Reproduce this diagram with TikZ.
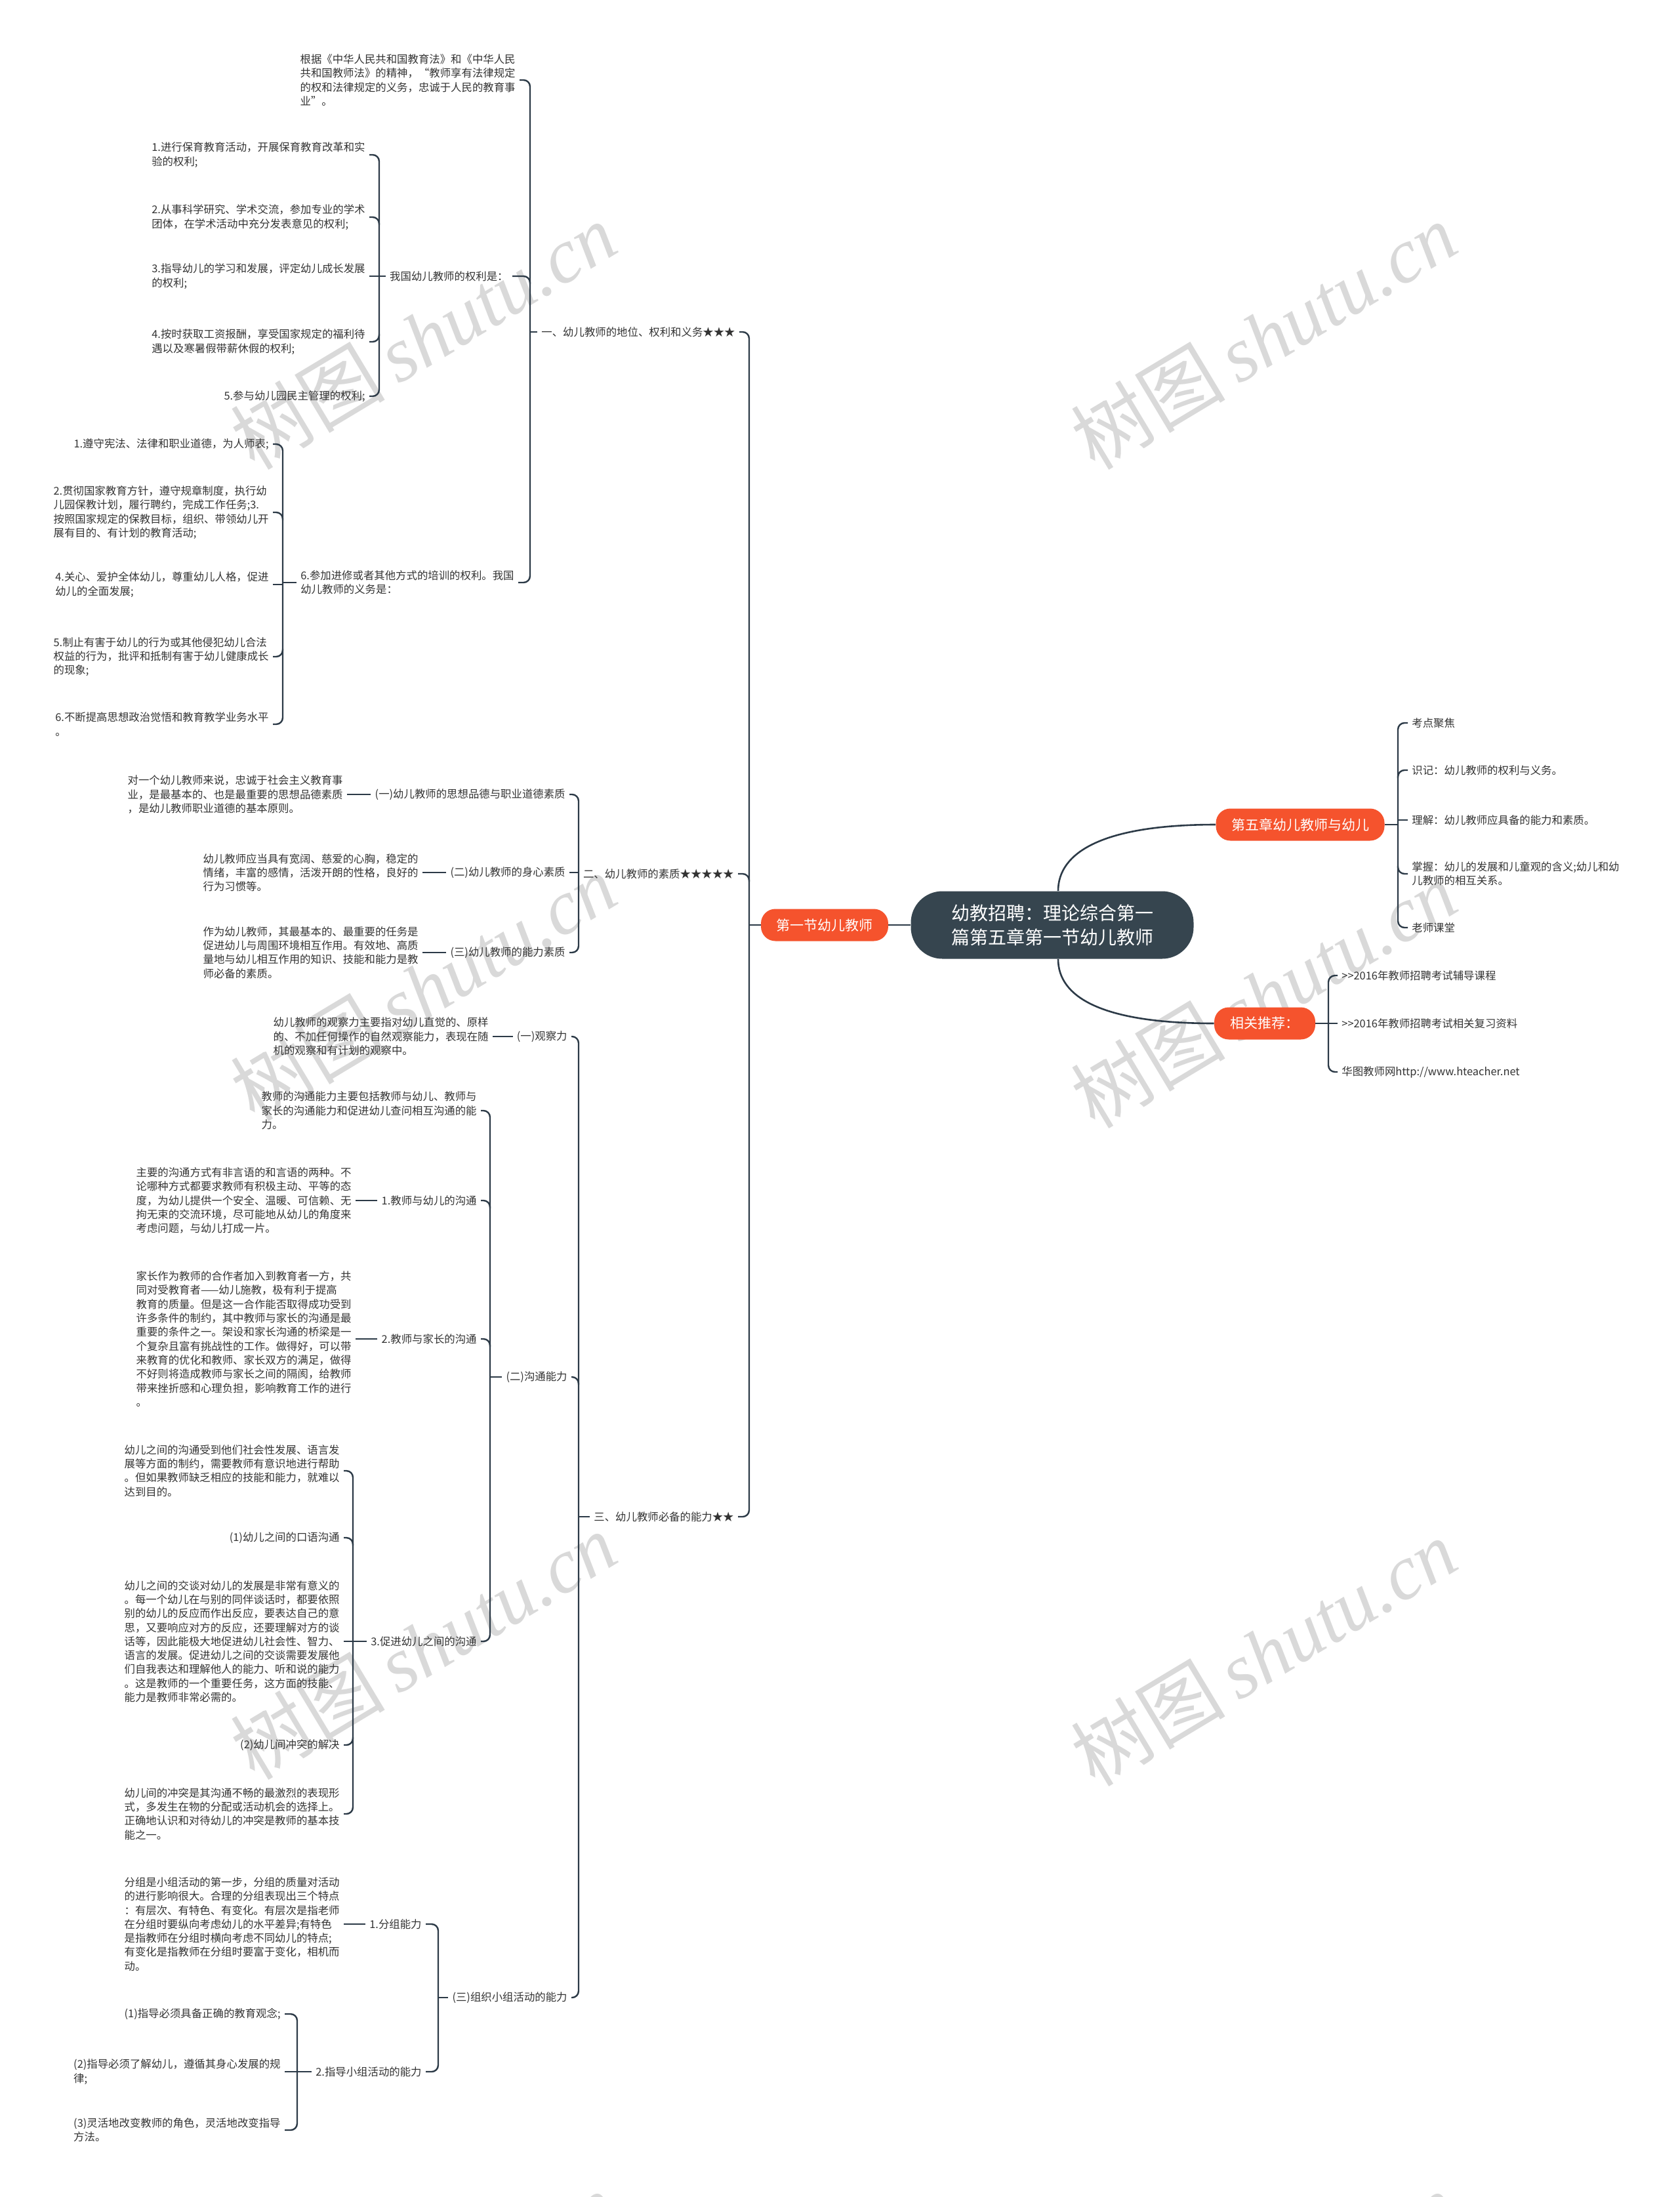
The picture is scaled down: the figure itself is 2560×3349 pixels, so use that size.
\documentclass[tikz,border=0pt]{standalone}
\usepackage{fontspec}
\setmainfont{Noto Sans CJK SC}
\newfontfamily\wmlatin{Liberation Serif}
\usetikzlibrary{calc}
\definecolor{lin}{HTML}{2C3A47}
\definecolor{rootc}{HTML}{36454F}
\definecolor{org}{HTML}{F5532D}
\definecolor{txt}{HTML}{333333}
\definecolor{wm}{HTML}{D9D9D9}
% left side: parent tick, end child (from junction), middle child (short curve), straight child
\newcommand\mmLp[2]{\draw[conn] ([xshift=-3pt]#1.west) -- (#2 |- #1.west);}
\newcommand\mmL[3]{\draw[conn] (#2 |- #1.west) |- ([xshift=3pt]#3.east);}
\newcommand\mmLm[3]{\draw[conn] ($(#1 |- #2.east)+(0,#3)$) |- ([xshift=3pt]#2.east);}
\newcommand\mmLs[2]{\draw[conn] (#1 |- #2.east) -- ([xshift=3pt]#2.east);}
% right side
\newcommand\mmR[3]{\draw[conn] (#2 |- #1.east) |- ([xshift=-3pt]#3.west);}
\newcommand\mmRm[3]{\draw[conn] ($(#1 |- #2.west)+(0,#3)$) |- ([xshift=-3pt]#2.west);}
\newcommand\mmRs[2]{\draw[conn] (#1 |- #2.west) -- ([xshift=-3pt]#2.west);}
\begin{document}
\begin{tikzpicture}[x=0.5pt,y=-0.5pt,
  t/.style={inner sep=0pt, align=left, text=txt, font=\fontsize{8.2pt}{10.65pt}\selectfont},
  tl/.style={t, anchor=east},
  tr/.style={t, anchor=west},
  conn/.style={draw=lin, line width=1.2pt, rounded corners=5pt},
  link/.style={draw=lin, line width=1.3pt},
  branch/.style={fill=org, text=white, rounded corners=11pt, minimum height=24.5pt, inner xsep=6pt, font=\fontsize{10.5pt}{13pt}\selectfont},
  rootn/.style={fill=rootc, text=white, rounded corners=24pt, minimum width=215.5pt, minimum height=51.5pt, align=center, font=\fontsize{14pt}{18.5pt}\selectfont},
  wmk/.style={text=wm, rotate=31, inner sep=0pt}
]
\useasboundingbox (0,0) rectangle (2560,3349);
% watermark
\begin{scope}
\clip (0,0) rectangle (2560,3349);
\foreach \x/\y [count=\i] in {645/512,1926/512,645/1505,1926/1516,645/2509,1926/2519,645/3515,1926/3515}
  \node[wmk] (wm\i) at (\x,\y) {\fontsize{59pt}{62pt}\selectfont 树图\,{\wmlatin\itshape shutu.cn}};
\end{scope}

% spine coordinates
\coordinate (s0) at (1142,0);
\coordinate (s1) at (808,0);
\coordinate (s2) at (578,0);
\coordinate (s3) at (431,0);
\coordinate (s4) at (882,0);
\coordinate (s5) at (882,0);
\coordinate (s6) at (747,0);
\coordinate (s7) at (538,0);
\coordinate (s8) at (668,0);
\coordinate (s9) at (453,0);
\coordinate (s10) at (2131,0);
\coordinate (s11) at (2025,0);

% root and branches
\node[rootn] (root) at (1604,1410) {幼教招聘：理论综合第一\\篇第五章第一节幼儿教师};
\node[branch, minimum width=97pt] (b1) at (1257,1410) {第一节幼儿教师};
\node[branch, minimum width=128.5pt] (b2) at (1982,1257) {第五章幼儿教师与幼儿};
\node[branch, minimum width=77pt] (b3) at (1928,1560) {相关推荐：};
\draw[link] (root.west) -- (b1.east);
\draw[link] ([xshift=4.5pt]root.north) .. controls ($(root.north)+(9,-58)$) and ($(b2.west)+(-174,0)$) .. (b2.west);
\draw[link] ([xshift=4.5pt]root.south) .. controls ($(root.south)+(9,58)$) and ($(b3.west)+(-171,0)$) .. (b3.west);

% ===== right: 第五章 =====
\node[tr] (t1) at (2152,1102) {考点聚焦};
\node[tr] (t2) at (2152,1174) {识记：幼儿教师的权利与义务。};
\node[tr] (t3) at (2152,1250) {理解：幼儿教师应具备的能力和素质。};
\node[tr] (t4) at (2152,1332) {掌握：幼儿的发展和儿童观的含义;幼儿和幼\\儿教师的相互关系。};
\node[tr] (t5) at (2152,1414) {老师课堂};
\draw[conn] (b2.east) -- (s10 |- b2.east);
\mmR{b2}{s10}{t1}
\mmRm{s10}{t2}{12}
\mmRs{s10}{t3}
\mmRm{s10}{t4}{-12}
\mmR{b2}{s10}{t5}

% ===== right: 相关推荐 =====
\node[tr] (u1) at (2045,1487) {>{}>2016年教师招聘考试辅导课程};
\node[tr] (u2) at (2045,1560) {>{}>2016年教师招聘考试相关复习资料};
\node[tr] (u3) at (2045,1634) {华图教师网http://www.hteacher.net};
\draw[conn] (b3.east) -- (s11 |- b3.east);
\mmR{b3}{s11}{u1}
\mmRs{s11}{u2}
\mmR{b3}{s11}{u3}

% ===== left main =====
\node[tl] (n1) at (1121,506) {一、幼儿教师的地位、权利和义务★★★};
\node[tl] (n2) at (1119,1332) {二、幼儿教师的素质★★★★★};
\node[tl] (n3) at (1119,2312) {三、幼儿教师必备的能力★★};
\draw[conn] (b1.west) -- (s0 |- b1.west);
\mmL{b1}{s0}{n1}
\mmLm{s0}{n2}{12}
\mmL{b1}{s0}{n3}

% ----- section 1 -----
\node[tl] (a1) at (786,122) {根据《中华人民共和国教育法》和《中华人民\\共和国教师法》的精神，“教师享有法律规定\\的权和法律规定的义务，忠诚于人民的教育事\\业”。};
\node[tl] (a2) at (775,421) {我国幼儿教师的权利是：};
\node[tl] (a3) at (784,888) {6.参加进修或者其他方式的培训的权利。我国\\幼儿教师的义务是：};
\mmLp{n1}{s1}
\mmL{n1}{s1}{a1}
\mmLm{s1}{a2}{12}
\mmL{n1}{s1}{a3}

\node[tl] (r1) at (557,236) {1.进行保育教育活动，开展保育教育改革和实\\验的权利;};
\node[tl] (r2) at (557,331) {2.从事科学研究、学术交流，参加专业的学术\\团体，在学术活动中充分发表意见的权利;};
\node[tl] (r3) at (557,421) {3.指导幼儿的学习和发展，评定幼儿成长发展\\的权利;};
\node[tl] (r4) at (557,521) {4.按时获取工资报酬，享受国家规定的福利待\\遇以及寒暑假带薪休假的权利;};
\node[tl] (r5) at (557,604) {5.参与幼儿园民主管理的权利;};
\mmLp{a2}{s2}
\mmL{a2}{s2}{r1}
\mmLm{s2}{r2}{12}
\mmLs{s2}{r3}
\mmLm{s2}{r4}{-12}
\mmL{a2}{s2}{r5}

\node[tl] (d1) at (410,677) {1.遵守宪法、法律和职业道德，为人师表;};
\node[tl] (d2) at (410,781) {2.贯彻国家教育方针，遵守规章制度，执行幼\\儿园保教计划，履行聘约，完成工作任务;3.\\按照国家规定的保教目标，组织、带领幼儿开\\展有目的、有计划的教育活动;};
\node[tl] (d3) at (410,891) {4.关心、爱护全体幼儿，尊重幼儿人格，促进\\幼儿的全面发展;};
\node[tl] (d4) at (410,1001) {5.制止有害于幼儿的行为或其他侵犯幼儿合法\\权益的行为，批评和抵制有害于幼儿健康成长\\的现象;};
\node[tl] (d5) at (410,1104) {6.不断提高思想政治觉悟和教育教学业务水平\\。};
\mmLp{a3}{s3}
\mmL{a3}{s3}{d1}
\mmLm{s3}{d2}{12}
\mmLs{s3}{d3}
\mmLm{s3}{d4}{-12}
\mmL{a3}{s3}{d5}

% ----- section 2 -----
\node[tl] (q1) at (862,1211) {(一)幼儿教师的思想品德与职业道德素质};
\node[tl] (q2) at (862,1330) {(二)幼儿教师的身心素质};
\node[tl] (q3) at (862,1452) {(三)幼儿教师的能力素质};
\node[tl] (q1c) at (523,1211) {对一个幼儿教师来说，忠诚于社会主义教育事\\业，是最基本的、也是最重要的思想品德素质\\，是幼儿教师职业道德的基本原则。};
\node[tl] (q2c) at (638,1330) {幼儿教师应当具有宽阔、慈爱的心胸，稳定的\\情绪，丰富的感情，活泼开朗的性格，良好的\\行为习惯等。};
\node[tl] (q3c) at (638,1452) {作为幼儿教师，其最基本的、最重要的任务是\\促进幼儿与周围环境相互作用。有效地、高质\\量地与幼儿相互作用的知识、技能和能力是教\\师必备的素质。};
\mmLp{n2}{s4}
\mmL{n2}{s4}{q1}
\mmLs{s4}{q2}
\mmL{n2}{s4}{q3}
\draw[conn] ([xshift=-3pt]q1.west) -- ([xshift=3pt]q1c.east);
\draw[conn] ([xshift=-3pt]q2.west) -- ([xshift=3pt]q2c.east);
\draw[conn] ([xshift=-3pt]q3.west) -- ([xshift=3pt]q3c.east);

% ----- section 3 -----
\node[tl] (o1) at (865,1580) {(一)观察力};
\node[tl] (o1c) at (745,1580) {幼儿教师的观察力主要指对幼儿直觉的、原样\\的、不加任何操作的自然观察能力，表现在随\\机的观察和有计划的观察中。};
\node[tl] (o2) at (865,2099) {(二)沟通能力};
\node[tl] (o3) at (865,3045) {(三)组织小组活动的能力};
\mmLp{n3}{s5}
\mmL{n3}{s5}{o1}
\mmLm{s5}{o2}{12}
\mmL{n3}{s5}{o3}
\draw[conn] ([xshift=-3pt]o1.west) -- ([xshift=3pt]o1c.east);

\node[tl] (c1) at (727,1693) {教师的沟通能力主要包括教师与幼儿、教师与\\家长的沟通能力和促进幼儿查问相互沟通的能\\力。};
\node[tl] (c2) at (727,1830) {1.教师与幼儿的沟通};
\node[tl] (c2c) at (536,1830) {主要的沟通方式有非言语的和言语的两种。不\\论哪种方式都要求教师有积极主动、平等的态\\度，为幼儿提供一个安全、温暖、可信赖、无\\拘无束的交流环境，尽可能地从幼儿的角度来\\考虑问题，与幼儿打成一片。};
\node[tl] (c3) at (727,2041) {2.教师与家长的沟通};
\node[tl] (c3c) at (536,2041) {家长作为教师的合作者加入到教育者一方，共\\同对受教育者——幼儿施教，极有利于提高\\教育的质量。但是这一合作能否取得成功受到\\许多条件的制约，其中教师与家长的沟通是最\\重要的条件之一。架设和家长沟通的桥梁是一\\个复杂且富有挑战性的工作。做得好，可以带\\来教育的优化和教师、家长双方的满足，做得\\不好则将造成教师与家长之间的隔阂，给教师\\带来挫折感和心理负担，影响教育工作的进行\\。};
\node[tl] (c4) at (727,2502) {3.促进幼儿之间的沟通};
\mmLp{o2}{s6}
\mmL{o2}{s6}{c1}
\mmLm{s6}{c2}{12}
\mmLm{s6}{c3}{12}
\mmL{o2}{s6}{c4}
\draw[conn] ([xshift=-3pt]c2.west) -- ([xshift=3pt]c2c.east);
\draw[conn] ([xshift=-3pt]c3.west) -- ([xshift=3pt]c3c.east);

\node[tl] (e1) at (518,2242) {幼儿之间的沟通受到他们社会性发展、语言发\\展等方面的制约，需要教师有意识地进行帮助\\。但如果教师缺乏相应的技能和能力，就难以\\达到目的。};
\node[tl] (e2) at (518,2344) {(1)幼儿之间的口语沟通};
\node[tl] (e3) at (518,2502) {幼儿之间的交谈对幼儿的发展是非常有意义的\\。每一个幼儿在与别的同伴谈话时，都要依照\\别的幼儿的反应而作出反应，要表达自己的意\\思，又要响应对方的反应，还要理解对方的谈\\话等，因此能极大地促进幼儿社会性、智力、\\语言的发展。促进幼儿之间的交谈需要发展他\\们自我表达和理解他人的能力、听和说的能力\\。这是教师的一个重要任务，这方面的技能、\\能力是教师非常必需的。};
\node[tl] (e4) at (518,2660) {(2)幼儿间冲突的解决};
\node[tl] (e5) at (518,2765) {幼儿间的冲突是其沟通不畅的最激烈的表现形\\式，多发生在物的分配或活动机会的选择上。\\正确地认识和对待幼儿的冲突是教师的基本技\\能之一。};
\mmLp{c4}{s7}
\mmL{c4}{s7}{e1}
\mmLm{s7}{e2}{12}
\mmLs{s7}{e3}
\mmLm{s7}{e4}{-12}
\mmL{c4}{s7}{e5}

\node[tl] (g1) at (643,2933) {1.分组能力};
\node[tl] (g1c) at (518,2933) {分组是小组活动的第一步，分组的质量对活动\\的进行影响很大。合理的分组表现出三个特点\\：有层次、有特色、有变化。有层次是指老师\\在分组时要纵向考虑幼儿的水平差异;有特色\\是指教师在分组时横向考虑不同幼儿的特点;\\有变化是指教师在分组时要富于变化，相机而\\动。};
\node[tl] (g2) at (643,3158) {2.指导小组活动的能力};
\mmLp{o3}{s8}
\mmL{o3}{s8}{g1}
\mmL{o3}{s8}{g2}
\draw[conn] ([xshift=-3pt]g1.west) -- ([xshift=3pt]g1c.east);

\node[tl] (h1) at (428,3070) {(1)指导必须具备正确的教育观念;};
\node[tl] (h2) at (428,3158) {(2)指导必须了解幼儿，遵循其身心发展的规\\律;};
\node[tl] (h3) at (428,3247) {(3)灵活地改变教师的角色，灵活地改变指导\\方法。};
\mmLp{g2}{s9}
\mmL{g2}{s9}{h1}
\mmLs{s9}{h2}
\mmL{g2}{s9}{h3}
\end{tikzpicture}
\end{document}
